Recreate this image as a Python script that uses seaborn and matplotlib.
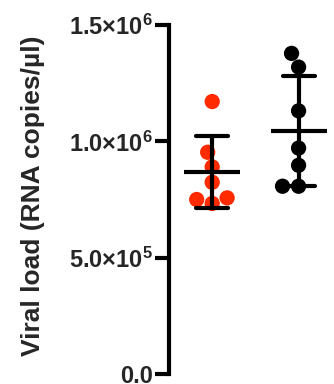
"""Viral load dot plot (mean ± SD) recreated with seaborn."""

import matplotlib

matplotlib.use("Agg")

import matplotlib.pyplot as plt
import matplotlib.ticker as mticker
import pandas as pd
import seaborn as sns

# values (RNA copies/µl)
groups = ["Group 1", "Group 2"]
group1_load = [1.171e6, 0.953e6, 0.890e6, 0.824e6, 0.757e6, 0.750e6, 0.733e6]
group2_load = [1.378e6, 1.319e6, 1.131e6, 0.971e6, 0.897e6, 0.807e6, 0.807e6]
group_colors = ["#ff2a00", "#000000"]
y_ticks = [0, 5e5, 1.0e6, 1.5e6]
y_tick_labels = ["0.0", "5.0×10$^{5}$", "1.0×10$^{6}$", "1.5×10$^{6}$"]

df = pd.DataFrame({
    "group": [groups[0]] * len(group1_load) + [groups[1]] * len(group2_load),
    "load": group1_load + group2_load,
})

sns.set_theme(style="white")
plt.rcParams["font.family"] = ["Liberation Sans", "DejaVu Sans"]
plt.rcParams["mathtext.fontset"] = "custom"
plt.rcParams["mathtext.rm"] = "Liberation Sans:bold"
plt.rcParams["mathtext.it"] = "Liberation Sans:bold"
plt.rcParams["mathtext.bf"] = "Liberation Sans:bold"

fig = plt.figure(figsize=(3.34, 3.84), dpi=100)
ax = fig.add_axes([169 / 334, 10 / 384, 1 - 169 / 334, 349 / 384])

sns.swarmplot(data=df, x="group", y="load", hue="group", palette=group_colors,
              order=groups, size=11, legend=False, ax=ax, zorder=2)
sns.pointplot(data=df, x="group", y="load", order=groups, errorbar="sd",
              color="black", marker="_", markersize=41, markeredgewidth=3,
              linestyle="none", capsize=0.37, err_kws={"linewidth": 3},
              ax=ax, zorder=3)

ax.set_xlim(-0.5, 1.41)
ax.set_ylim(0, 1.5e6)
ax.yaxis.set_major_locator(mticker.FixedLocator(y_ticks))
ax.set_yticklabels(y_tick_labels, fontsize=17, fontweight="bold")
ax.set_xticks([])
ax.set_xlabel("")
ax.set_ylabel("Viral load (RNA copies/µl)", fontsize=19, fontweight="bold")
ax.yaxis.set_label_coords(-0.75, 0.51)

for side in ["top", "right", "bottom"]:
    ax.spines[side].set_visible(False)
ax.spines["left"].set_linewidth(3)
ax.spines["left"].set_color("black")
ax.tick_params(axis="y", which="major", left=True, length=10, width=3, pad=1.5, color="black")

fig.savefig("out.png", dpi=100)
